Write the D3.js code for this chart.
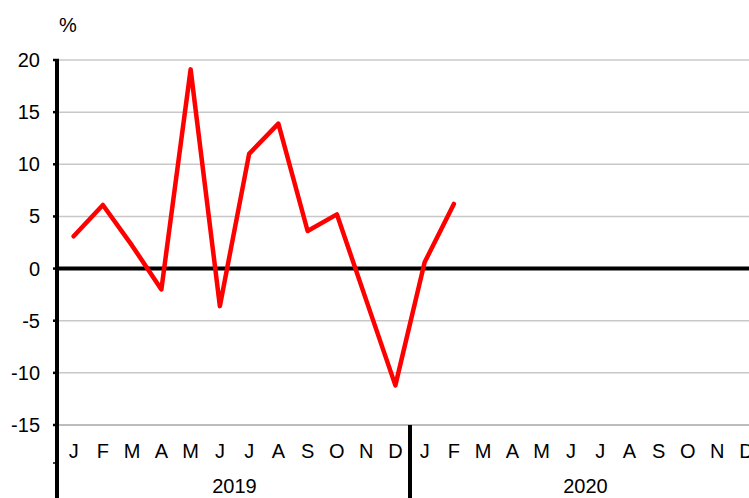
<!DOCTYPE html>
<html>
<head>
<meta charset="utf-8">
<script src="https://cdn.jsdelivr.net/npm/d3@7"></script>
<style>
    body { margin: 0; background: #fff; }
    svg { display: block; font-family: "Liberation Sans", Arial, sans-serif; }
</style>
</head>
<body>
<svg id="chart" width="749" height="498"></svg>
<script>
/**
 * Monthly % change, 2019-2020.
 */
const years = ['2019', '2020'];
const months = ['J', 'F', 'M', 'A', 'M', 'J', 'J', 'A', 'S', 'O', 'N', 'D'];
const values = [3.1, 6.1, 2.2, -2.0, 19.1, -3.6, 11.0, 13.9, 3.6, 5.2, -3.0, -11.2, 0.6, 6.2];
const yTicks = [-15, -10, -5, 0, 5, 10, 15, 20];

const margin = { top: 60, left: 59 },
    bandWidth = 29.25,
    plotBottom = 425,
    svgHeight = 498,
    fontSize = '20px';

const categories = [];
years.forEach(y => months.forEach((m, i) => categories.push({ key: y + '-' + i, month: m, year: y })));

const svg = d3.select('#chart');

const x = d3.scaleBand()
    .domain(categories.map(d => d.key))
    .range([margin.left, margin.left + bandWidth * categories.length])
    .paddingInner(0).paddingOuter(0);

const y = d3.scaleLinear()
    .domain([-15, 20])
    .range([plotBottom, margin.top]);

// Gridlines
svg.append('g').attr('class', 'grid')
    .selectAll('line').data(yTicks.filter(d => d !== 0))
    .enter().append('line')
        .attr('x1', margin.left).attr('x2', 749)
        .attr('y1', d => y(d)).attr('y2', d => y(d))
        .style('stroke', d => d === -15 ? '#a6a6a6' : '#c8c8c8')
        .style('stroke-width', 1.5);

// Zero line
svg.append('line')
    .attr('x1', margin.left).attr('x2', 749)
    .attr('y1', y(0)).attr('y2', y(0))
    .style('stroke', '#000').style('stroke-width', 4);

// Y axis
const yAxis = svg.append('g').attr('class', 'y-axis');
yAxis.append('line')
    .attr('x1', margin.left - 2).attr('x2', margin.left - 2)
    .attr('y1', y(20) - 1).attr('y2', svgHeight)
    .style('stroke', '#000').style('stroke-width', 4);
yAxis.selectAll('.tick').data(yTicks)
    .enter().append('line').attr('class', 'tick')
        .attr('x1', margin.left - 6).attr('x2', margin.left)
        .attr('y1', d => y(d)).attr('y2', d => y(d))
        .style('stroke', '#000').style('stroke-width', 2.5);
yAxis.selectAll('text').data(yTicks)
    .enter().append('text')
        .attr('x', 40).attr('y', d => y(d))
        .attr('dy', '0.35em')
        .attr('text-anchor', 'end')
        .style('font-size', fontSize)
        .text(d => d);

svg.append('text')
    .attr('x', 59).attr('y', 32)
    .style('font-size', fontSize)
    .text('%');

// X axis: months
const monthY = 451;
svg.append('g').attr('class', 'months')
    .selectAll('text').data(categories)
    .enter().append('text')
        .attr('x', d => x(d.key) + x.bandwidth() / 2)
        .attr('y', monthY)
        .attr('dy', '0.35em')
        .attr('text-anchor', 'middle')
        .style('font-size', fontSize)
        .text(d => d.month);

// Year groups
const yearExtent = yr => {
    const keys = categories.filter(d => d.year === yr).map(d => d.key);
    return [x(keys[0]), x(keys[keys.length - 1]) + x.bandwidth()];
};
svg.append('g').attr('class', 'years')
    .selectAll('text').data(years)
    .enter().append('text')
        .attr('x', d => d3.mean(yearExtent(d)))
        .attr('y', 486)
        .attr('dy', '0.35em')
        .attr('text-anchor', 'middle')
        .style('font-size', fontSize)
        .text(d => d);

// Year divider
years.slice(1).forEach(yr => {
    const xs = yearExtent(yr)[0];
    svg.append('line')
        .attr('x1', xs).attr('x2', xs)
        .attr('y1', plotBottom).attr('y2', svgHeight)
        .style('stroke', '#000').style('stroke-width', 4);
});

// Separator tick between month row and year row
svg.append('line')
    .attr('x1', margin.left - 6).attr('x2', margin.left)
    .attr('y1', 463).attr('y2', 463)
    .style('stroke', '#000').style('stroke-width', 1.5);

// Series line
const line = d3.line()
    .x((d, i) => x(categories[i].key) + x.bandwidth() / 2)
    .y(d => y(d));

svg.append('path')
    .datum(values)
    .attr('d', line)
    .style('fill', 'none')
    .style('stroke', '#ff0000')
    .style('stroke-width', 4.5)
    .style('stroke-linejoin', 'round')
    .style('stroke-linecap', 'round');
</script>
</body>
</html>
